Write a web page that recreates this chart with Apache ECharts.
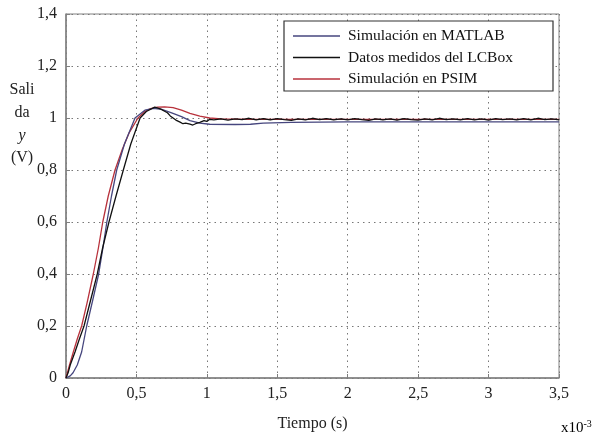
<!DOCTYPE html>
<html>
<head>
<meta charset="utf-8">
<script src="https://cdn.jsdelivr.net/npm/echarts@6/dist/echarts.min.js"></script>
<style>html,body{margin:0;padding:0;background:#fff}#c{width:598px;height:437px}</style>
</head>
<body>
<div id="c"></div>
<script>
// ---- data (time in ms, i.e. x10^-3 s; output in V) ----
var seriesNames = ['Simulación en MATLAB', 'Datos medidos del LCBox', 'Simulación en PSIM'];
var xTicks = [0, 0.5, 1, 1.5, 2, 2.5, 3, 3.5];
var yTicks = [0, 0.2, 0.4, 0.6, 0.8, 1, 1.2, 1.4];

var matlab = [
  [0,0],[0.03,0.008],[0.05,0.02],[0.08,0.05],[0.111,0.1],[0.147,0.2],[0.19,0.3],[0.232,0.4],
  [0.262,0.5],[0.29,0.6],[0.323,0.7],[0.36,0.8],[0.415,0.9],[0.49,1.0],[0.56,1.03],[0.62,1.037],
  [0.68,1.033],[0.75,1.02],[0.82,1.005],[0.88,0.99],[0.95,0.98],[1.02,0.976],[1.2,0.975],
  [1.31,0.976],[1.4,0.98],[1.6,0.983],[2.0,0.985],[2.5,0.985],[3.0,0.985],[3.5,0.985]
];

var lcbox = [
  [0,0],[0.015,0.02],[0.03,0.05],[0.064,0.1],[0.095,0.15],[0.128,0.2],[0.175,0.3],[0.222,0.4],
  [0.26,0.5],[0.305,0.6],[0.355,0.7],[0.407,0.8],[0.46,0.9],[0.526,1.0],[0.57,1.025],[0.63,1.042],
  [0.67,1.035],[0.70,1.026],[0.72,1.02],[0.74,1.008],[0.76,1.0],[0.78,0.992],[0.79,0.988],[0.81,0.984],
  [0.83,0.978],[0.85,0.98],[0.86,0.974],[0.88,0.976],[0.90,0.973],[0.92,0.978],[0.95,0.983],
  [0.98,0.99],[1.0,0.987],[1.02,0.995],
  [1.05,0.993],[1.10,0.997],[1.15,0.992],[1.20,0.997],[1.25,0.994],[1.30,0.999],[1.35,0.993],
  [1.40,0.998],[1.45,0.993],[1.50,0.998],[1.55,0.994],[1.60,0.991],[1.65,0.997],[1.70,0.993],
  [1.75,0.999],[1.80,0.994],[1.85,0.998],[1.90,0.993],[1.95,0.997],[2.00,0.993],[2.05,0.998],
  [2.10,0.994],[2.15,0.991],[2.20,0.997],[2.25,0.993],[2.30,0.997],[2.35,0.992],[2.40,0.998],
  [2.45,0.994],[2.50,0.992],[2.55,0.997],[2.60,0.993],[2.65,0.999],[2.70,0.994],[2.75,0.997],
  [2.80,0.993],[2.85,0.998],[2.90,0.993],[2.95,0.997],[3.00,0.992],[3.05,0.998],[3.10,0.994],
  [3.15,0.997],[3.20,0.993],[3.25,0.998],[3.30,0.993],[3.35,0.999],[3.40,0.994],[3.45,0.997],[3.50,0.993]
];

var psim = [
  [0,0],[0.025,0.05],[0.052,0.1],[0.08,0.15],[0.111,0.2],[0.15,0.29],[0.194,0.4],[0.23,0.5],
  [0.261,0.6],[0.30,0.7],[0.348,0.8],[0.40,0.88],[0.45,0.945],[0.511,1.0],[0.56,1.025],[0.60,1.036],
  [0.65,1.042],[0.70,1.043],[0.76,1.04],[0.82,1.03],[0.88,1.018],[0.95,1.007],[1.02,1.0],
  [1.1,0.997],[1.3,0.995],[1.6,0.995],[2.0,0.995],[2.5,0.995],[3.0,0.995],[3.5,0.995]
];

var colors = ['#46467e', '#111111', '#b8323c'];

var serif = '"Liberation Serif", "DejaVu Serif", serif';
function comma(v) { return String(+v.toFixed(2)).replace('.', ','); }

var chart = echarts.init(document.getElementById('c'), null, {renderer: 'canvas'});
chart.setOption({
  animation: false,
  backgroundColor: '#fff',
  color: colors,
  grid: {left: 66, right: 39, top: 14, bottom: 47, show: true, borderColor: '#808080', borderWidth: 1},
  xAxis: {
    type: 'value', min: 0, max: 3.5, interval: 0.5,
    name: 'Tiempo (s)', nameLocation: 'middle', nameGap: 38,
    nameTextStyle: {fontFamily: serif, fontSize: 16, color: '#222'},
    axisLine: {show: true, lineStyle: {color: '#808080', width: 1.5}},
    axisTick: {show: true, inside: true, length: 4, lineStyle: {color: '#808080'}},
    axisLabel: {fontFamily: serif, fontSize: 16, color: '#222', margin: 8,
      formatter: function (v) { return xTicks.indexOf(+v.toFixed(2)) >= 0 ? comma(v) : ''; }},
    splitLine: {show: true, lineStyle: {color: '#777', width: 1, type: [1.5, 4]}}
  },
  yAxis: {
    type: 'value', min: 0, max: 1.4, interval: 0.2,
    axisLine: {show: true, lineStyle: {color: '#808080', width: 1.5}},
    axisTick: {show: true, inside: true, length: 4, lineStyle: {color: '#808080'}},
    axisLabel: {fontFamily: serif, fontSize: 16, color: '#222', margin: 9,
      formatter: function (v) { return yTicks.indexOf(+v.toFixed(2)) >= 0 ? comma(v) : ''; }},
    splitLine: {show: true, lineStyle: {color: '#777', width: 1, type: [1.5, 4]}}
  },
  legend: {
    show: true, orient: 'vertical', left: 288, top: 23, z: 10,
    icon: 'rect', itemWidth: 47, itemHeight: 1.5, itemGap: 5.5,
    textStyle: {fontFamily: serif, fontSize: 15.5, color: '#111', padding: [0, 0, 0, 3]},
    data: seriesNames
  },
  graphic: [
    {type: 'rect', z: 9, shape: {x: 284, y: 21, width: 269, height: 70},
      style: {fill: '#fff', stroke: '#333', lineWidth: 1.2}},
    {type: 'text', x: 22, y: 90, style: {text: 'Sali', font: '16px ' + serif, fill: '#222', align: 'center', verticalAlign: 'middle'}},
    {type: 'text', x: 22, y: 113, style: {text: 'da', font: '16px ' + serif, fill: '#222', align: 'center', verticalAlign: 'middle'}},
    {type: 'text', x: 22, y: 136, style: {text: 'y', font: 'italic 16px ' + serif, fill: '#222', align: 'center', verticalAlign: 'middle'}},
    {type: 'text', x: 22, y: 158, style: {text: '(V)', font: '16px ' + serif, fill: '#222', align: 'center', verticalAlign: 'middle'}},
    {type: 'text', x: 561, y: 428, style: {
      text: '{b|x10}{s|-3}', verticalAlign: 'middle',
      rich: {b: {fontFamily: serif, fontSize: 15, color: '#222'},
             s: {fontFamily: serif, fontSize: 10, color: '#222', verticalAlign: 'top', padding: [0, 0, 8, 0]}}}}
  ],
  series: [
    {name: seriesNames[0], type: 'line', data: matlab, showSymbol: false, symbol: 'none', lineStyle: {color: colors[0], width: 1.3}, z: 3},
    {name: seriesNames[1], type: 'line', data: lcbox, showSymbol: false, symbol: 'none', lineStyle: {color: colors[1], width: 1.3}, z: 4},
    {name: seriesNames[2], type: 'line', data: psim, showSymbol: false, symbol: 'none', lineStyle: {color: colors[2], width: 1.3}, z: 2}
  ]
});
</script>
</body>
</html>
